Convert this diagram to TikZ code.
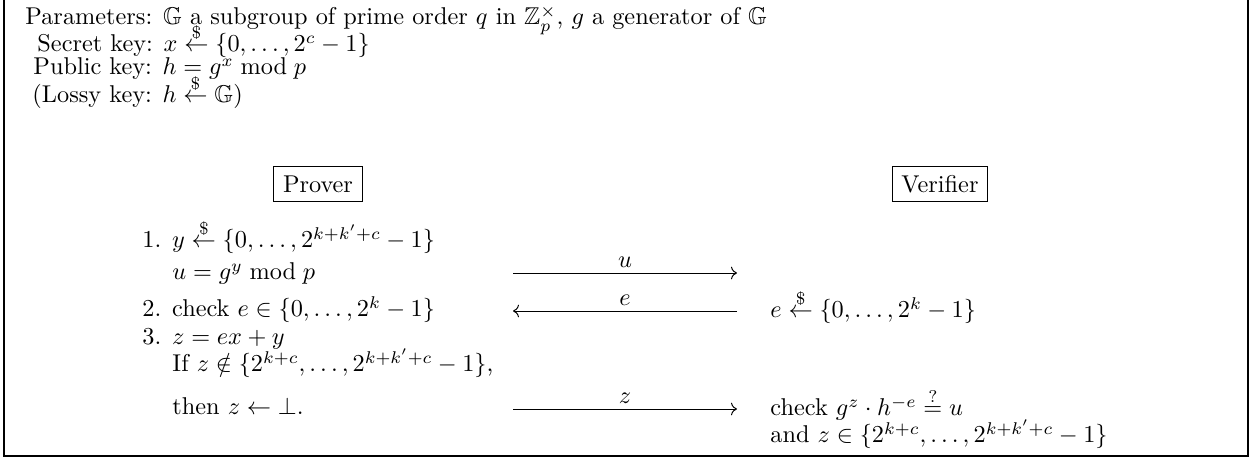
\documentclass[tikz,border=0pt]{standalone}
\usepackage{amsmath,amssymb,amsfonts}
\usepackage{tikz}
\usetikzlibrary{arrows.meta,positioning,calc}
\newcommand{\rnd}{\stackrel{\$}{\leftarrow}}

\begin{document}
\begin{tikzpicture}[x=0.4116pt, y=-0.4116pt,
    txt/.style   = {anchor=base west, inner sep=0pt},
    party/.style = {draw, inner xsep=3.8pt, inner ysep=3.6pt},
    arr/.style   = {->, line width=0.4pt},
    lbl/.style   = {above, inner sep=2pt},
]
\useasboundingbox (0,0) rectangle (1253,467);
\draw[line width=0.7pt] (4,-2) -- (4,456) -- (1248,456) -- (1248,-2);

\node[txt] (par) at (25,25)  {Parameters: $\mathbb{G}$ a subgroup of prime order $q$ in $\mathbb{Z}_p^\times$, $g$ a generator of $\mathbb{G}$};
\node[txt] (sk)  at (37,52)  {Secret key: $x \rnd \{0,\ldots,2^c-1\}$};
\node[txt] (pk)  at (33,75)  {Public key: $h = g^x \bmod p$};
\node[txt] (lk)  at (32,103) {(Lossy key: $h \rnd \mathbb{G}$)};

\node[party] (prv) at (318,184) {Prover};
\node[party] (ver) at (940,184) {Verifier};

\node[txt] (p1)  at (142,248) {1. $y \rnd \{0,\ldots,2^{k+k'+c}-1\}$};
\node[txt] (p1b) at (172,280) {$u = g^y \bmod p$};
\node[txt] (p2)  at (142,317) {2. check $e \in \{0,\ldots,2^k-1\}$};
\node[txt] (p3)  at (142,345) {3. $z = ex+y$};
\node[txt] (p3b) at (172,372) {If $z \notin \{2^{k+c},\ldots,2^{k+k'+c}-1\}$,};
\node[txt] (p3c) at (172,415) {then $z \leftarrow \bot$.};

\node[txt] (v1)  at (770,318) {$e \rnd \{0,\ldots,2^k-1\}$};
\node[txt] (v2)  at (770,416) {check $g^z \cdot h^{-e} \stackrel{?}{=} u$};
\node[txt] (v2b) at (770,443) {and $z \in \{2^{k+c},\ldots,2^{k+k'+c}-1\}$};

\coordinate (uA) at (513,273);  \coordinate (uB) at (737,273);
\coordinate (eA) at (737,311);  \coordinate (eB) at (513,311);
\coordinate (zA) at (513,409);  \coordinate (zB) at (737,409);
\draw[arr] (uA) -- node[lbl] {$u$} (uB);
\draw[arr] (eA) -- node[lbl] {$e$} (eB);
\draw[arr] (zA) -- node[lbl] {$z$} (zB);
\end{tikzpicture}
\end{document}
